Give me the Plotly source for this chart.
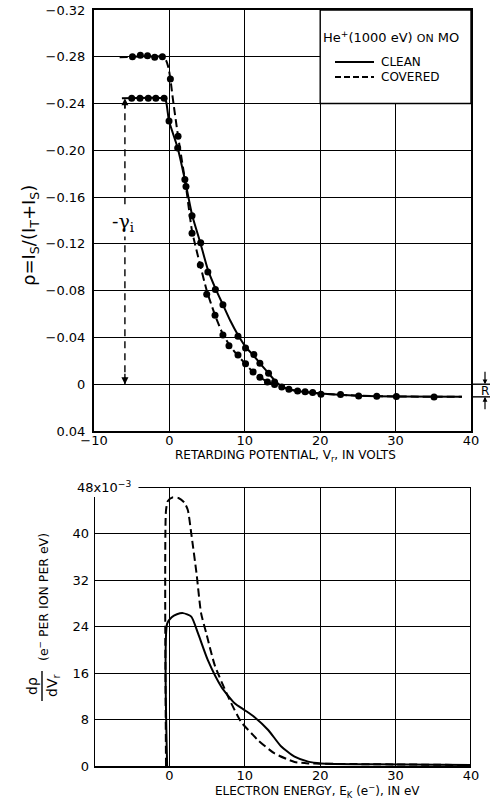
import plotly.graph_objects as go

# ---------------- data: top panel (rho vs retarding potential) ----------------
clean_v = [-5.0, -3.9, -2.8, -1.8, -0.7, -0.05, 1.1, 2.05, 3.0, 4.15, 5.1, 6.1, 7.1, 9.1, 10.1, 11.2, 12.0, 13.15, 13.95]
clean_rho = [-0.2445, -0.2445, -0.2445, -0.2445, -0.2445, -0.225, -0.202, -0.175, -0.144, -0.121, -0.096, -0.081,
             -0.068, -0.041, -0.031, -0.0255, -0.018, -0.0094, -0.002]
covered_v = [-4.9, -3.85, -2.9, -1.95, -0.93, 0.13, 1.15, 2.2, 3.0, 4.1, 4.95, 6.05, 7.1, 7.9, 9.1, 10.1, 11.1, 12.0, 13.0, 13.95]
covered_rho = [-0.280, -0.2814, -0.2809, -0.2795, -0.280, -0.261, -0.212, -0.169, -0.129, -0.102, -0.077, -0.059,
               -0.042, -0.033, -0.025, -0.0176, -0.0105, -0.006, -0.002, 0.0003]
tail_v = [14.9, 15.85, 17.0, 18.0, 19.0, 20.1, 22.7, 25.1, 27.5, 30.1, 35.1]
tail_rho = [0.0023, 0.0043, 0.0057, 0.0065, 0.0071, 0.0085, 0.0088, 0.0100, 0.0102, 0.0104, 0.0110]

clean_fit_v = [-6.3, -0.8, -0.45, -0.05, 1.1, 2.05, 3.0, 4.1, 5.1, 6.1, 7.1, 8.1, 9.1, 10.1, 11.1, 12.0, 13.0,
               14.0, 15.0, 16.0, 17.0, 18.0, 20.0, 25.0, 30.0, 38.8]
clean_fit_rho = [-0.2445, -0.2445, -0.242, -0.225, -0.202, -0.175, -0.145, -0.121, -0.098, -0.082, -0.068, -0.054,
                 -0.042, -0.032, -0.025, -0.018, -0.0105, -0.003, 0.0022, 0.0045, 0.0058, 0.0067, 0.008, 0.0098,
                 0.0105, 0.0108]
covered_fit_v = [-6.6, -0.8, -0.45, -0.1, 0.13, 0.5, 1.15, 2.2, 3.0, 4.0, 5.0, 6.0, 7.0, 8.0, 9.0, 10.0, 11.0, 12.0,
                 13.0, 14.0, 15.0, 16.0, 17.0, 18.0, 20.0, 25.0, 30.0, 38.8]
covered_fit_rho = [-0.2795, -0.2800, -0.277, -0.270, -0.261, -0.242, -0.212, -0.169, -0.131, -0.104, -0.079, -0.060,
                   -0.044, -0.033, -0.025, -0.018, -0.011, -0.006, -0.002, 0.0005, 0.0025, 0.0045, 0.0058, 0.0067,
                   0.008, 0.0098, 0.0105, 0.0108]

gamma_v = -5.9          # position of the -gamma_i arrow
gamma_rho = -0.2445     # clean plateau level
r_level = 0.0108        # reflection level R

top_x_ticks = [-10, 0, 10, 20, 30, 40]
top_x_labels = ["−10", "0", "10", "20", "30", "40"]
top_y_ticks = [-0.32, -0.28, -0.24, -0.20, -0.16, -0.12, -0.08, -0.04, 0.0, 0.04]
top_y_labels = ["−0.32", "−0.28", "−0.24", "−0.20", "−0.16", "−0.12", "−0.08", "−0.04", "0", "0.04"]

# ---------------- data: bottom panel (d rho / dVr vs electron energy, x1e-3) ----------------
clean_ek = [-0.3, -0.3, 0.3, 1.0, 1.8, 2.9, 3.8, 5.1, 6.9, 8.65, 10.0, 11.3, 13.1, 14.8, 16.6, 18.4, 20.1, 27.0, 40.0]
clean_dr = [0, 24.5, 25.6, 26.1, 26.3, 25.7, 22.8, 18.2, 13.6, 10.8, 9.6, 8.4, 6.2, 3.4, 1.6, 0.75, 0.45, 0.3, 0.17]
covered_ek = [-0.45, -0.45, -0.2, 0.4, 1.2, 2.0, 2.45, 2.9, 3.6, 4.2, 4.9, 6.0, 7.8, 9.5, 10.9, 11.7, 13.9, 16.6,
              18.4, 20.0, 27.0, 40.0]
covered_dr = [0, 44.0, 45.6, 46.2, 46.1, 45.3, 44.0, 40.0, 33.1, 26.3, 22.8, 17.4, 11.9, 7.6, 5.6, 4.5, 2.2, 0.7,
              0.45, 0.4, 0.3, 0.17]

bot_x_ticks = [0, 10, 20, 30, 40]
bot_x_labels = ["0", "10", "20", "30", "40"]
bot_y_ticks = [0, 8, 16, 24, 32, 40]
bot_y_labels = ["0", "8", "16", "24", "32", "40"]
bot_y_top = 48
bot_y_top_label = "48x10<sup>−3</sup>"

# ---------------- layout helpers ----------------
W, H = 490, 802
def px(x):
    return x / W
def py(y):
    return 1 - y / H

X_DOM = [px(94), px(471)]
Y1_DOM = [py(431), py(10)]
Y2_DOM = [py(766), py(487)]
FONT = "DejaVu Sans"
DASH = "8px,4px"

fig = go.Figure()

# top panel curves
fig.add_trace(go.Scatter(x=clean_fit_v, y=clean_fit_rho, mode="lines", name="CLEAN",
                         line=dict(color="black", width=2, shape="spline", smoothing=0.5),
                         xaxis="x", yaxis="y", hoverinfo="skip"))
fig.add_trace(go.Scatter(x=covered_fit_v, y=covered_fit_rho, mode="lines", name="COVERED",
                         line=dict(color="black", width=2, dash=DASH, shape="spline", smoothing=0.5),
                         xaxis="x", yaxis="y", hoverinfo="skip"))
for xs, ys in [(clean_v, clean_rho), (covered_v, covered_rho), (tail_v, tail_rho)]:
    fig.add_trace(go.Scatter(x=xs, y=ys, mode="markers", marker=dict(color="black", size=7),
                             xaxis="x", yaxis="y", hoverinfo="skip"))

# bottom panel curves
fig.add_trace(go.Scatter(x=clean_ek, y=clean_dr, mode="lines",
                         line=dict(color="black", width=2, shape="spline", smoothing=0.6),
                         xaxis="x2", yaxis="y2", hoverinfo="skip"))
fig.add_trace(go.Scatter(x=covered_ek, y=covered_dr, mode="lines",
                         line=dict(color="black", width=2, dash=DASH, shape="spline", smoothing=0.6),
                         xaxis="x2", yaxis="y2", hoverinfo="skip"))

axis_common = dict(showgrid=True, gridcolor="black", gridwidth=1.4, zeroline=False, ticks="",
                   automargin=False, tickfont=dict(family=FONT, size=13, color="black"))

fig.update_layout(
    width=W, height=H, margin=dict(l=0, r=0, t=0, b=0),
    paper_bgcolor="white", plot_bgcolor="white", showlegend=False,
    font=dict(family=FONT, size=13, color="black"),
    xaxis=dict(domain=X_DOM, range=[-10, 40], tickvals=top_x_ticks, ticktext=top_x_labels,
               showline=True, mirror=True, linecolor="black", linewidth=2, anchor="y",
               ticklabelstandoff=-4, **axis_common),
    yaxis=dict(domain=Y1_DOM, range=[0.04, -0.32], tickvals=top_y_ticks, ticktext=top_y_labels,
               showline=True, mirror=True, linecolor="black", linewidth=2, anchor="x",
               ticklabelstandoff=4, **axis_common),
    xaxis2=dict(domain=X_DOM, range=[-10, 40], tickvals=bot_x_ticks, ticktext=bot_x_labels,
                showline=True, mirror=False, linecolor="black", linewidth=2, anchor="y2",
                ticklabelstandoff=-4, **axis_common),
    yaxis2=dict(domain=Y2_DOM, range=[0, bot_y_top], tickvals=bot_y_ticks, ticktext=bot_y_labels,
                showline=False, anchor="x2", ticklabelstandoff=4, **axis_common),
)

shapes = []
# legend box (blanks grid lines under it)
shapes.append(dict(type="rect", xref="x", yref="y", x0=20, x1=40, y0=-0.32, y1=-0.24,
                   fillcolor="white", line=dict(color="black", width=1.4), layer="above"))
# legend sample lines
shapes.append(dict(type="line", xref="paper", yref="paper", x0=px(335), x1=px(374), y0=py(62), y1=py(62),
                   line=dict(color="black", width=2)))
shapes.append(dict(type="line", xref="paper", yref="paper", x0=px(335), x1=px(374), y0=py(77), y1=py(77),
                   line=dict(color="black", width=2, dash="6px,3px")))
# -gamma_i dashed arrow line
shapes.append(dict(type="line", xref="x", yref="y", x0=gamma_v, x1=gamma_v, y0=0, y1=gamma_rho,
                   line=dict(color="black", width=1.4, dash="7px,5px")))
# R marker extension lines
shapes.append(dict(type="line", xref="paper", yref="y", x0=px(471), x1=1, y0=0, y1=0,
                   line=dict(color="black", width=1.4)))
shapes.append(dict(type="line", xref="paper", yref="y", x0=px(473), x1=1, y0=r_level, y1=r_level,
                   line=dict(color="black", width=1.4)))
# bottom panel frame pieces
shapes.append(dict(type="line", xref="x2", yref="y2", x0=-10, x1=-10, y0=0, y1=46.3,
                   line=dict(color="black", width=2)))
shapes.append(dict(type="line", xref="x2", yref="y2", x0=-4.1, x1=40, y0=bot_y_top, y1=bot_y_top,
                   line=dict(color="black", width=2)))
shapes.append(dict(type="line", xref="x2", yref="y2", x0=40, x1=40, y0=0, y1=bot_y_top,
                   line=dict(color="black", width=2)))
# fraction bar of the bottom y title
shapes.append(dict(type="line", xref="paper", yref="paper", x0=px(42), x1=px(42), y0=py(671), y1=py(701),
                   line=dict(color="black", width=1.4)))
fig.update_layout(shapes=shapes)


def note(**kw):
    base = dict(showarrow=False, xanchor="center", yanchor="middle")
    base.update(kw)
    return base


ann = []
# legend text
ann.append(note(xref="paper", yref="paper", x=px(321), y=py(37), xanchor="left",
                text="He<sup>+</sup>(1000 eV) <span style='font-size:11px'>ON</span> MO",
                font=dict(family=FONT, size=13, color="black")))
ann.append(note(xref="paper", yref="paper", x=px(379), y=py(62), xanchor="left",
                text="CLEAN", font=dict(family=FONT, size=12, color="black")))
ann.append(note(xref="paper", yref="paper", x=px(379), y=py(77), xanchor="left",
                text="COVERED", font=dict(family=FONT, size=12, color="black")))
# -gamma_i arrowheads and label
ann.append(dict(xref="x", yref="y", x=gamma_v, y=gamma_rho, ax=0, ay=12, showarrow=True, text="",
                arrowhead=2, arrowsize=1, arrowwidth=1.4, arrowcolor="black"))
ann.append(dict(xref="x", yref="y", x=gamma_v, y=0, ax=0, ay=-12, showarrow=True, text="",
                arrowhead=2, arrowsize=1, arrowwidth=1.4, arrowcolor="black"))
ann.append(note(xref="x", yref="y", x=gamma_v - 0.2, y=-0.138, bgcolor="white",
                text="-γ<sub>i</sub>", font=dict(family="DejaVu Serif", size=19, color="black")))
# R marker
ann.append(dict(xref="paper", yref="y", x=px(485), y=0, ax=0, ay=-14, showarrow=True, text="",
                arrowhead=2, arrowsize=0.8, arrowwidth=1.2, arrowcolor="black"))
ann.append(dict(xref="paper", yref="y", x=px(485), y=r_level, ax=0, ay=14, showarrow=True, text="",
                arrowhead=2, arrowsize=0.8, arrowwidth=1.2, arrowcolor="black"))
ann.append(note(xref="paper", yref="y", x=px(485), y=r_level / 2, text="R",
                font=dict(family=FONT, size=12, color="black")))
# axis titles
ann.append(note(xref="paper", yref="paper", x=px(285), y=py(456),
                text="RETARDING POTENTIAL, V<sub>r</sub>, IN VOLTS", font=dict(family=FONT, size=12, color="black")))
ann.append(note(xref="paper", yref="paper", x=px(317), y=py(791),
                text="ELECTRON ENERGY, E<sub>K</sub> (e<sup>−</sup>), IN eV", font=dict(family=FONT, size=12, color="black")))
ann.append(note(xref="paper", yref="paper", x=px(30), y=py(236), textangle=-90,
                text="ρ=I<sub>S</sub>/(I<sub>T</sub>+I<sub>S</sub>)", font=dict(family=FONT, size=18, color="black")))
# bottom y title: fraction d rho / dVr + units
ann.append(note(xref="paper", yref="paper", x=px(32), y=py(686), textangle=-90,
                text="dρ", font=dict(family=FONT, size=14, color="black")))
ann.append(note(xref="paper", yref="paper", x=px(53), y=py(686), textangle=-90,
                text="dV<sub>r</sub>", font=dict(family=FONT, size=14, color="black")))
ann.append(note(xref="paper", yref="paper", x=px(43), y=py(597), textangle=-90,
                text="(e<sup>−</sup> PER ION PER eV)", font=dict(family=FONT, size=12.5, color="black")))
# 48x10^-3 top tick label
ann.append(note(xref="paper", yref="y2", x=px(75), y=bot_y_top, xanchor="left",
                text=bot_y_top_label, font=dict(family=FONT, size=13, color="black")))
fig.update_layout(annotations=ann)

fig.write_html("out.html")
